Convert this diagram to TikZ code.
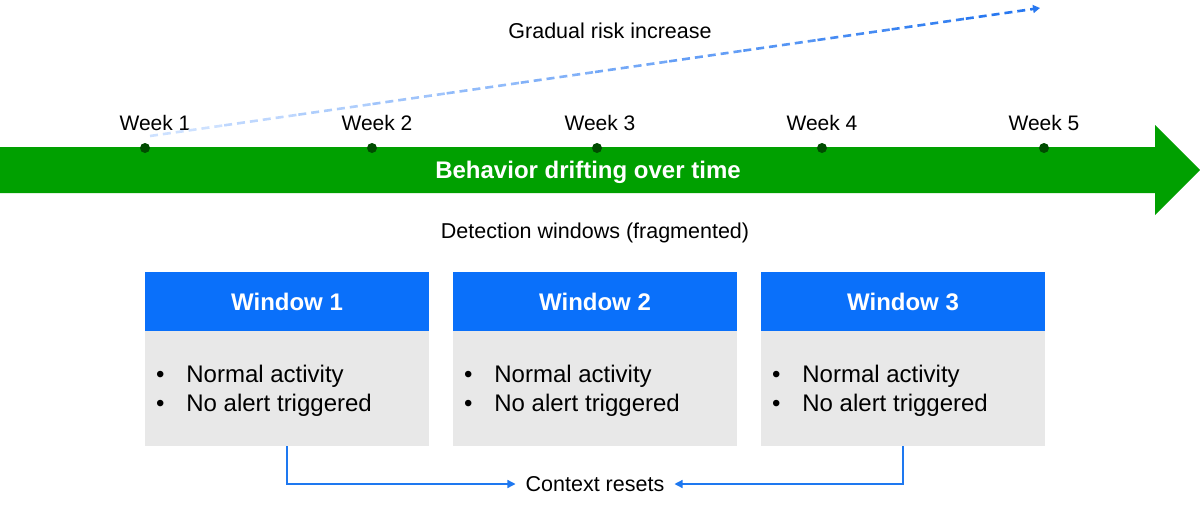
\documentclass[tikz,border=0pt]{standalone}
\usepackage{fontspec}
\setmainfont{Liberation Sans}
\usetikzlibrary{arrows.meta,calc}
\definecolor{arrgreen}{RGB}{0,160,0}
\definecolor{dotgreen}{RGB}{0,75,0}
\definecolor{hdrblue}{RGB}{10,112,250}
\definecolor{bodygray}{RGB}{232,232,232}
\definecolor{conblue}{RGB}{30,120,240}
\definecolor{dashS}{RGB}{205,225,255}
\definecolor{dashE}{RGB}{40,120,240}
\tikzset{
  lbl/.style={font=\fontsize{21.5}{26}\selectfont, inner sep=0pt},
  weeklbl/.style={font=\fontsize{21}{25}\selectfont, inner sep=0pt},
  tdot/.style={circle, fill=dotgreen, minimum size=10pt, inner sep=0pt},
  hdr/.style={fill=hdrblue, minimum width=284pt, minimum height=59pt, inner sep=0pt, text=white, font=\bfseries\fontsize{24}{29}\selectfont},
  bodybox/.style={fill=bodygray, minimum width=284pt, minimum height=115pt, inner sep=0pt},
  bullets/.style={font=\fontsize{24}{29}\selectfont, inner sep=0pt, anchor=west, align=left},
  conn/.style={draw=conblue, line width=1.3pt, shorten >=10pt, -{Triangle[width=8pt,length=8pt]}},
}
\newcommand{\bulletlist}{\begin{tabular}{@{}l@{\hspace{22pt}}l@{}}\textbullet & Normal activity\\ \textbullet & No alert triggered\end{tabular}}
\begin{document}
\begin{tikzpicture}[x=1pt,y=-1pt]
\useasboundingbox (0,0) rectangle (1200,509);
% big arrow
\fill[arrgreen] (0,147) -- (1155,147) -- (1155,125) -- (1200,170) -- (1155,215) -- (1155,193) -- (0,193) -- cycle;
\node[text=white, font=\bfseries\fontsize{24}{29}\selectfont, inner sep=0pt] (title) at (588,172) {Behavior drifting over time};
% dots and weeks
\foreach \n/\x/\lx in {1/145/155, 2/372/377, 3/597/600, 4/822/822, 5/1044/1044}{
  \node[tdot] (d\n) at (\x,148) {};
  \node[weeklbl] (w\n) at (\lx,123) {Week \n};
}
% gradual risk
\coordinate (rs) at (150,136);
\coordinate (re) at (1040,8);
\foreach \i in {0,...,11}{
  \pgfmathsetmacro\p{100*\i/11}
  \pgfmathsetmacro\a{\i/12}
  \pgfmathsetmacro\b{(\i+1)/12}
  \ifnum\i<11
    \draw[dashE!\p!dashS, line width=2.6pt, dash pattern=on 8pt off 5pt] ($(rs)!\a!(re)$) -- ($(rs)!\b!(re)$);
  \else
    \draw[dashE!\p!dashS, line width=2.6pt, dash pattern=on 8pt off 5pt, -{Triangle[width=8pt,length=7pt]}] ($(rs)!\a!(re)$) -- ($(rs)!\b!(re)$);
  \fi
}
\node[lbl] (gri) at (610,31) {Gradual risk increase};
\node[lbl] (det) at (595,233) {Detection windows (fragmented)};
% windows
\foreach \n/\x in {1/287, 2/595, 3/903}{
  \node[bodybox] (b\n) at (\x,388.5) {};
  \node[hdr] (h\n) at (\x,301.5) {Window \n};
  \node[bullets] (t\n) at ($(b\n.west)+(11,3)$) {\bulletlist};
}
\node[lbl] (ctx) at (595,484) {Context resets};
\draw[conn] (b1.south) |- (ctx.west);
\draw[conn] (b3.south) |- (ctx.east);
\end{tikzpicture}
\end{document}
